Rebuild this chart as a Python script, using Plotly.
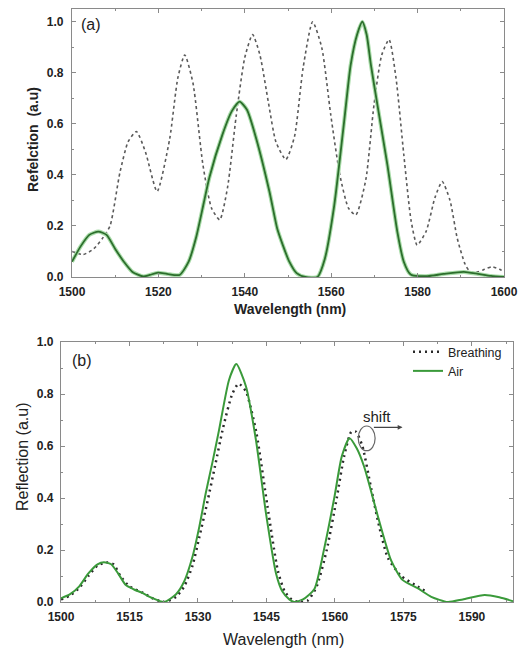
import plotly.graph_objects as go

# ---------- Panel (a) data ----------
a_dot_x = [1500, 1502.6, 1505, 1507, 1508.8, 1511.1, 1513, 1514.9, 1517, 1519.7, 1522.6, 1524.5,
           1526.1, 1528, 1530.3, 1532.3, 1534.2, 1536, 1538, 1540, 1541.8, 1543.5, 1545.5, 1547.2,
           1549.5, 1551.5, 1553.5, 1555.7, 1557.8, 1559.9, 1562, 1564, 1565.7, 1568, 1569.9,
           1571.7, 1573.4, 1575, 1576.8, 1578.5, 1579.9, 1582, 1584, 1585.7, 1587.5, 1589.2,
           1591, 1592.2, 1594, 1595.5, 1597.2, 1599, 1600]
a_dot_y = [0.10, 0.088, 0.11, 0.15, 0.20, 0.41, 0.53, 0.57, 0.49, 0.335, 0.54, 0.78,
           0.87, 0.76, 0.44, 0.27, 0.224, 0.35, 0.63, 0.86, 0.95, 0.87, 0.68, 0.53,
           0.46, 0.55, 0.82, 1.00, 0.90, 0.635, 0.40, 0.27, 0.243, 0.38, 0.674,
           0.87, 0.93, 0.78, 0.48, 0.22, 0.125, 0.18, 0.31, 0.374, 0.30, 0.15,
           0.05, 0.02, 0.02, 0.03, 0.04, 0.03, 0.02]

a_air_x = [1500, 1502, 1504, 1506.1, 1508, 1510, 1512, 1514, 1516.5, 1518, 1519.9, 1522, 1524.9,
           1527, 1528.8, 1530.5, 1531.8, 1534.8, 1537, 1538.8, 1540.5, 1542.6, 1545.7, 1547.5,
           1548.8, 1550.3, 1552, 1554, 1556.8, 1558.5, 1560.7, 1563, 1564.5, 1566, 1567.2,
           1568.2, 1569.2, 1570.7, 1573, 1575.3, 1576.8, 1578.4, 1582, 1586, 1590.7, 1594,
           1597, 1600]
a_air_y = [0.06, 0.12, 0.165, 0.178, 0.165, 0.11, 0.06, 0.02, 0.002, 0.008, 0.017, 0.012, 0.008,
           0.06, 0.16, 0.29, 0.39, 0.557, 0.65, 0.687, 0.655, 0.545, 0.335, 0.19,
           0.125, 0.06, 0.015, 0.0, 0.0, 0.07, 0.28, 0.61, 0.83, 0.95, 1.0,
           0.95, 0.83, 0.674, 0.44, 0.178, 0.06, 0.01, 0.003, 0.012, 0.02, 0.012,
           0.004, 0.0]

# ---------- Panel (b) data ----------
b_air_x = [1500, 1502, 1504, 1506, 1508, 1509.4, 1511, 1512.5, 1514.2, 1516, 1517.8, 1520, 1522.6,
           1525.2, 1527, 1528.8, 1530.3, 1531.7, 1533.2, 1534.6, 1536.8, 1538.4, 1540.5, 1542.7,
           1544.9, 1547.1, 1548.5, 1550, 1551.1, 1553, 1555.5, 1557.7, 1559.9, 1561.5, 1563.2,
           1564.8, 1566.4, 1569.4, 1572.3, 1574.8, 1578.1, 1581.1, 1584.7, 1588, 1592.8, 1596, 1599]
b_air_y = [0.014, 0.03, 0.06, 0.11, 0.145, 0.153, 0.145, 0.11, 0.065, 0.048, 0.035, 0.015, 0.0,
           0.03, 0.08, 0.174, 0.29, 0.418, 0.54, 0.66, 0.854, 0.915, 0.83, 0.623,
           0.341, 0.11, 0.04, 0.01, 0.0, 0.01, 0.05, 0.21, 0.405, 0.56, 0.63,
           0.59, 0.52, 0.33, 0.16, 0.085, 0.053, 0.02, 0.0, 0.01, 0.027, 0.018, 0.003]

b_br_x = [1500, 1502, 1504, 1506, 1508, 1510, 1511.5, 1513, 1515, 1518, 1520, 1522.6, 1525.2,
          1527, 1528.8, 1530.3, 1532, 1533.7, 1535.5, 1537.5, 1538.9, 1540.5, 1542.8, 1545.2,
          1547.5, 1549, 1550.5, 1552, 1554, 1556, 1558.2, 1560.4, 1562, 1563.6, 1564.6, 1566,
          1567.9, 1569.7, 1571.6, 1574.5, 1578.1, 1580]
b_br_y = [0.01, 0.025, 0.055, 0.10, 0.14, 0.152, 0.145, 0.10, 0.06, 0.035, 0.015, 0.0, 0.02,
          0.06, 0.14, 0.25, 0.38, 0.52, 0.67, 0.80, 0.84, 0.81, 0.65, 0.37,
          0.12, 0.04, 0.01, 0.0, 0.005, 0.06, 0.20, 0.40, 0.56, 0.655, 0.655, 0.60,
          0.44, 0.29, 0.17, 0.10, 0.06, 0.04]

a_xticks = [1500, 1520, 1540, 1560, 1580, 1600]
b_xticks = [1500, 1515, 1530, 1545, 1560, 1575, 1590]
y_ticks = [0, 0.2, 0.4, 0.6, 0.8, 1.0]
y_ticktext = ["0.0", "0.2", "0.4", "0.6", "0.8", "1.0"]

FONT = "Liberation Sans, Arial, sans-serif"
TXT = "#222"
OFF = 8                      # page body margin offset
W, H = 528 - OFF, 651 - OFF  # figure size so it fills the window


def fx(px):
    return (px - OFF) / W


def fy(py):
    return 1 - (py - OFF) / H


fig = go.Figure()

SPL = dict(shape="spline", smoothing=0.6)

# Panel (a)
fig.add_trace(go.Scatter(x=a_dot_x, y=a_dot_y, mode="lines",
                         line=dict(color="#5a5a5a", width=1.6, dash="dot", **SPL),
                         xaxis="x", yaxis="y", showlegend=False))
fig.add_trace(go.Scatter(x=a_air_x, y=a_air_y, mode="lines",
                         line=dict(color="#a9dca9", width=4, **SPL),
                         xaxis="x", yaxis="y", showlegend=False, hoverinfo="skip"))
fig.add_trace(go.Scatter(x=a_air_x, y=a_air_y, mode="lines",
                         line=dict(color="#2c6e2c", width=1.8, **SPL),
                         xaxis="x", yaxis="y", showlegend=False))

# Panel (b)
fig.add_trace(go.Scatter(x=b_br_x, y=b_br_y, mode="lines", name="Breathing",
                         line=dict(color="#2a2a2a", width=2.5, dash="2px,4px", **SPL),
                         xaxis="x2", yaxis="y2"))
fig.add_trace(go.Scatter(x=b_air_x, y=b_air_y, mode="lines", name="Air",
                         line=dict(color="#3a9a3a", width=2, **SPL),
                         xaxis="x2", yaxis="y2"))

axis_common = dict(showline=True, mirror="ticks", linecolor="#8a8a8a", linewidth=1.2,
                   ticks="inside", ticklen=4, tickcolor="#8a8a8a", showgrid=False,
                   zeroline=False, automargin=False,
                   tickfont=dict(size=12, family=FONT, weight="bold", color=TXT))

fig.update_layout(
    width=W, height=H,
    margin=dict(l=0, r=0, t=0, b=0),
    paper_bgcolor="white", plot_bgcolor="white",
    font=dict(family=FONT, color=TXT),
    xaxis=dict(domain=[fx(72), fx(504)], anchor="y", range=[1500, 1600], tickvals=a_xticks,
               minor=dict(ticks="inside", ticklen=2, dtick=10, tickcolor="#8a8a8a"),
               ticklabelstandoff=3, **axis_common),
    yaxis=dict(domain=[fy(277), fy(9)], anchor="x", range=[0, 1.05],
               tickvals=y_ticks, ticktext=y_ticktext,
               minor=dict(ticks="inside", ticklen=2, dtick=0.1, tickcolor="#8a8a8a"),
               ticklabelstandoff=5, **axis_common),
    xaxis2=dict(domain=[fx(61), fx(513)], anchor="y2", range=[1500, 1599], tickvals=b_xticks,
                minor=dict(ticks="inside", ticklen=2, dtick=7.5, tickcolor="#8a8a8a"),
                ticklabelstandoff=3, **axis_common),
    yaxis2=dict(domain=[fy(602), fy(342)], anchor="x2", range=[0, 1.0],
                tickvals=y_ticks, ticktext=y_ticktext,
                minor=dict(ticks="inside", ticklen=2, dtick=0.1, tickcolor="#8a8a8a"),
                ticklabelstandoff=4, **axis_common),
    legend=dict(x=fx(408), y=fy(337), xanchor="left", yanchor="top", bgcolor="rgba(0,0,0,0)",
                font=dict(size=12.5, color=TXT), itemwidth=30, tracegroupgap=0,
                borderwidth=0),
)


def page_text(text, px, py, size, bold=False, angle=0):
    fig.add_annotation(text=f"<b>{text}</b>" if bold else text, xref="paper", yref="paper",
                       x=fx(px), y=fy(py), xanchor="center", yanchor="middle",
                       showarrow=False, textangle=angle, font=dict(size=size, color=TXT))


# Axis titles
page_text("Refelction  (a.u)", 33, 140, 14, bold=True, angle=-90)
page_text("Wavelength (nm)", 290, 309, 14, bold=True)
page_text("Reflection (a.u)", 22, 457, 16, angle=-90)
page_text("Wavelength (nm)", 283, 639, 16)

# Panel labels
fig.add_annotation(text="(a)", xref="paper", yref="paper", x=fx(79), y=fy(24),
                   xanchor="left", yanchor="middle", showarrow=False, font=dict(size=16, color=TXT))
fig.add_annotation(text="(b)", xref="paper", yref="paper", x=fx(70), y=fy(360),
                   xanchor="left", yanchor="middle", showarrow=False, font=dict(size=16, color=TXT))

# shift annotation
fig.add_annotation(text="shift", xref="x2", yref="y2", x=1569.3, y=0.715, showarrow=False,
                   font=dict(size=15, color=TXT))
fig.add_annotation(x=1574.8, y=0.672, ax=1568.2, ay=0.672, xref="x2", yref="y2", axref="x2",
                   ayref="y2", showarrow=True, arrowhead=2, arrowsize=0.8, arrowwidth=1.2,
                   arrowcolor="#444", text="")
fig.add_shape(type="circle", xref="x2", yref="y2", x0=1565.1, x1=1568.8, y0=0.582, y1=0.677,
              line=dict(color="#666", width=1.2))

fig.write_html("out.html")
